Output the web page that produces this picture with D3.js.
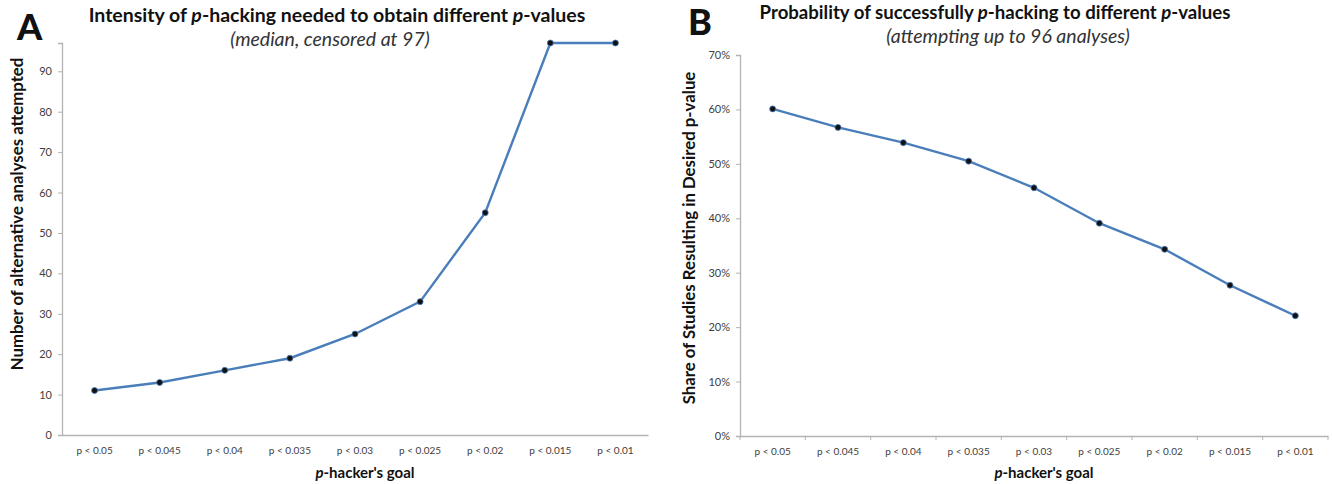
<!DOCTYPE html>
<html>
<head>
<meta charset="utf-8">
<script src="https://cdn.jsdelivr.net/npm/d3@7"></script>
<style>
  body { margin: 0; background: #fff; }
  svg text { font-family: Lato, "Open Sans", sans-serif; }
</style>
</head>
<body>
<div id="chart"></div>
<script>
// categories shared by both panels
const goals = ["p < 0.05", "p < 0.045", "p < 0.04", "p < 0.035", "p < 0.03",
  "p < 0.025", "p < 0.02", "p < 0.015", "p < 0.01"];

// panel A: median analyses needed (censored at 97)
const analysesNeeded = [11, 13, 16, 19, 25, 33, 55, 97, 97];
const ticksA = [0, 10, 20, 30, 40, 50, 60, 70, 80, 90];

// panel B: share of studies reaching the p-value
const shareSuccess = [0.601, 0.567, 0.539, 0.505, 0.456, 0.391, 0.343, 0.277, 0.221];
const ticksB = [0, 0.1, 0.2, 0.3, 0.4, 0.5, 0.6, 0.7];

const W = 1332, H = 484;
const lineColor = '#4a7ebb', axisColor = '#b3b3b3', tickText = '#404040';

const svg = d3.select('#chart').append('svg')
  .attr('width', W).attr('height', H);

function panel(opts) {
  const x = d3.scaleBand().domain(goals).range([opts.x0, opts.x1]);
  const y = d3.scaleLinear().domain(opts.yDomain).range([opts.y0, opts.y1]);
  const g = svg.append('g');

  // y axis
  const yAxis = d3.axisLeft(y).tickValues(opts.yTicks).tickSize(4).tickPadding(6)
    .tickFormat(opts.yFormat);
  const ya = g.append('g').attr('transform', 'translate(' + opts.x0 + ',0)').call(yAxis);
  ya.select('.domain').attr('stroke', axisColor).attr('stroke-width', 1.3);
  ya.selectAll('.tick line').attr('stroke', axisColor);
  ya.selectAll('.tick text').attr('fill', tickText).style('font-size', '11px');

  // x axis
  const xAxis = d3.axisBottom(x).tickSize(0).tickPadding(12);
  const xa = g.append('g').attr('transform', 'translate(0,' + opts.y0 + ')').call(xAxis);
  xa.select('.domain').attr('stroke', axisColor).attr('stroke-width', 1.3);
  xa.selectAll('.tick text').attr('fill', tickText).style('font-size', '10px');
  if (opts.xTicks) {
    g.append('g').selectAll('line')
      .data(goals.concat(['end']))
      .enter().append('line')
      .attr('x1', function (d, i) { return opts.x0 + i * x.step(); })
      .attr('x2', function (d, i) { return opts.x0 + i * x.step(); })
      .attr('y1', opts.y0).attr('y2', opts.y0 + 4)
      .attr('stroke', axisColor);
  }

  // line + markers
  const line = d3.line()
    .x(function (d, i) { return x(goals[i]) + x.bandwidth() / 2; })
    .y(function (d) { return y(d); });
  g.append('path').datum(opts.values)
    .attr('d', line).attr('fill', 'none')
    .attr('stroke', lineColor).attr('stroke-width', 2.4);
  g.selectAll('circle.pt').data(opts.values).enter().append('circle')
    .attr('class', 'pt')
    .attr('cx', function (d, i) { return x(goals[i]) + x.bandwidth() / 2; })
    .attr('cy', function (d) { return y(d); })
    .attr('r', 3)
    .attr('fill', '#111').attr('stroke', lineColor).attr('stroke-width', 0.8);

  // big panel letter
  svg.append('text').attr('x', opts.letterX).attr('y', opts.letterY)
    .style('font-size', '36px').style('font-weight', 900).attr('fill', '#111')
    .text(opts.letter);

  // title with italic p
  const t = svg.append('text').attr('x', opts.titleX).attr('y', opts.titleY)
    .attr('text-anchor', 'middle').style('font-size', opts.titleSize + 'px').style('font-weight', 'bold')
    .attr('fill', '#111');
  opts.title.forEach(function (part) {
    t.append('tspan').style('font-style', part[1] ? 'italic' : 'normal').text(part[0]);
  });
  svg.append('text').attr('x', opts.subX).attr('y', opts.titleY + 24)
    .attr('text-anchor', 'middle').style('font-size', '19.5px').style('font-style', 'italic')
    .attr('fill', '#333').text(opts.subtitle);

  // y label
  svg.append('text')
    .attr('transform', 'translate(' + opts.yLabelX + ',' + opts.yLabelY + ') rotate(-90)')
    .attr('text-anchor', 'middle').style('font-size', '16.8px').style('font-weight', 'bold')
    .attr('fill', '#111').text(opts.yLabel);

  // x label
  const xl = svg.append('text').attr('x', (opts.x0 + opts.x1) / 2 + 10).attr('y', 478)
    .attr('text-anchor', 'middle').style('font-size', '15px').style('font-weight', 'bold')
    .attr('fill', '#111');
  xl.append('tspan').style('font-style', 'italic').text('p');
  xl.append('tspan').text("-hacker's goal");
}

panel({
  x0: 62, x1: 648, y0: 435, y1: 43, yDomain: [0, 97], yTicks: ticksA,
  yFormat: d3.format('d'), values: analysesNeeded, xTicks: false,
  letter: 'A', letterX: 17, letterY: 40,
  title: [['Intensity of ', false], ['p', true], ['-hacking needed to obtain different ', false], ['p', true], ['-values', false]],
  titleX: 337, titleY: 22, titleSize: 19.5, subtitle: '(median, censored at 97)', subX: 330,
  yLabel: 'Number of alternative  analyses attempted', yLabelX: 23, yLabelY: 214
});

panel({
  x0: 740, x1: 1328, y0: 436, y1: 55, yDomain: [0, 0.7], yTicks: ticksB,
  yFormat: d3.format('.0%'), values: shareSuccess, xTicks: true,
  letter: 'B', letterX: 688, letterY: 35,
  title: [['Probability of successfully ', false], ['p', true], ['-hacking to different ', false], ['p', true], ['-values', false]],
  titleX: 995, titleY: 19, titleSize: 18.6, subtitle: '(attempting up to 96 analyses)', subX: 1008,
  yLabel: 'Share of Studies Resulting in Desired p-value', yLabelX: 695, yLabelY: 238
});
</script>
</body>
</html>
